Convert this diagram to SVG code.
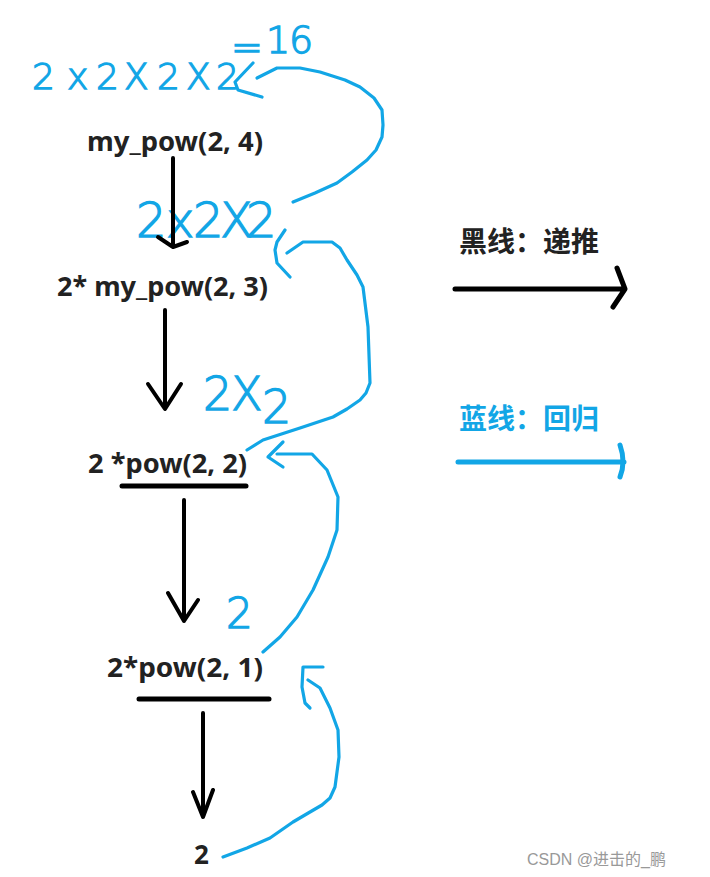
<svg xmlns="http://www.w3.org/2000/svg" width="710" height="877" viewBox="0 0 710 877">
<style>
.lbl{font-family:"Noto Sans","Open Sans","Liberation Sans",sans-serif;font-weight:700;font-size:26px;fill:#222}
.cn{font-family:"Noto Sans CJK SC","Noto Sans",sans-serif;font-weight:700;font-size:28px}
.hand{font-family:"DejaVu Sans","Liberation Sans",sans-serif;font-weight:200;fill:#12a6e6;stroke:#12a6e6;stroke-width:1.3}
.blk{fill:none;stroke:#000;stroke-width:4;stroke-linecap:round;stroke-linejoin:round}
.blu{fill:none;stroke:#12a6e6;stroke-width:3.2;stroke-linecap:round;stroke-linejoin:round}
.bar{stroke:#000;stroke-width:5;stroke-linecap:round}
</style>
<rect width="710" height="877" fill="#fff"/>
<g id="node-pow4"><text class="lbl" x="87" y="151" textLength="176" lengthAdjust="spacingAndGlyphs">my_pow(2, 4)</text></g>
<g id="node-pow3"><text class="lbl" x="57" y="296" textLength="211" lengthAdjust="spacingAndGlyphs">2* my_pow(2, 3)</text></g>
<g id="node-pow2"><text class="lbl" x="88" y="473" textLength="159" lengthAdjust="spacingAndGlyphs">2 *pow(2, 2)</text><line class="bar" x1="122" y1="486" x2="246" y2="486"/></g>
<g id="node-pow1"><text class="lbl" x="107" y="677" textLength="156" lengthAdjust="spacingAndGlyphs">2*pow(2, 1)</text><line class="bar" x1="139" y1="699" x2="269" y2="699"/></g>
<g id="node-base"><text class="lbl" x="194" y="864" font-size="30">2</text></g>
<g id="results">
<text class="hand" font-size="36" x="32 67 96 124 157 186 216" y="89">2x2X2X2</text>
<text class="hand" font-size="38" x="231 266 289" y="60 53 53">=16</text>
<text class="hand" font-size="48" x="136 166 193 220 246" y="237">2x2X2</text>
<text class="hand" font-size="46" x="203 231 262" y="410 410 423">2X2</text>
<text class="hand" font-size="42" x="226" y="628">2</text>
</g>
<g id="connectors">
<path class="blk" d="M173 158 V247 M158 237 L173 247 L187 242"/>
<path class="blk" d="M165 310 V408 M148 384 L165 409 L181 384"/>
<path class="blk" d="M184 500 V621 M168 593 L184 621 L198 600"/>
<path class="blk" d="M203 713 V816 M193 792 L203 817 L213 790"/>
<polyline class="blu" points="253,63 235,82 238,90 262,97"/>
<polyline class="blu" points="257,78 277,68 300,68 320,72 345,80 360,87 374,98 382,110 383,125 382,137 376,150 367,160 352,172 337,183 315,193 293,202"/>
<polyline class="blu" points="285,230 277,242 275,250 277,263 290,277"/>
<polyline class="blu" points="287,253 303,242 332,242 340,248 347,260 357,275 363,287 368,327 370,383 366,393 360,400 347,409 333,417 300,428 263,440 247,450"/>
<polyline class="blu" points="283,442 268,457 283,467"/>
<polyline class="blu" points="277,454 312,454 327,470 338,497 337,530 328,557 313,590 297,617 280,637 263,652"/>
<polyline class="blu" points="323,667 303,667 302,687 305,703 310,708"/>
<polyline class="blu" points="308,680 320,688 330,708 338,730 339,757 335,787 330,798 322,805 310,812 293,822 270,838 247,848 223,857"/>
</g>
<g id="legend-black">
<text class="cn" x="459" y="252" fill="#222">黑线：递推</text>
<path d="M455 289 H624 M617 268 L625 289 L613 307" fill="none" stroke="#000" stroke-width="5" stroke-linecap="round" stroke-linejoin="round"/>
</g>
<g id="legend-blue">
<text class="cn" x="459" y="429" fill="#12a6e6">蓝线：回归</text>
<path d="M458 462 H624 M620 445 Q626 462 620 477" fill="none" stroke="#12a6e6" stroke-width="5" stroke-linecap="round" stroke-linejoin="round"/>
</g>
<text x="527" y="865" font-family="Liberation Sans,Noto Sans CJK SC,sans-serif" font-size="16" fill="#999">CSDN @进击的_鹏</text>
</svg>
